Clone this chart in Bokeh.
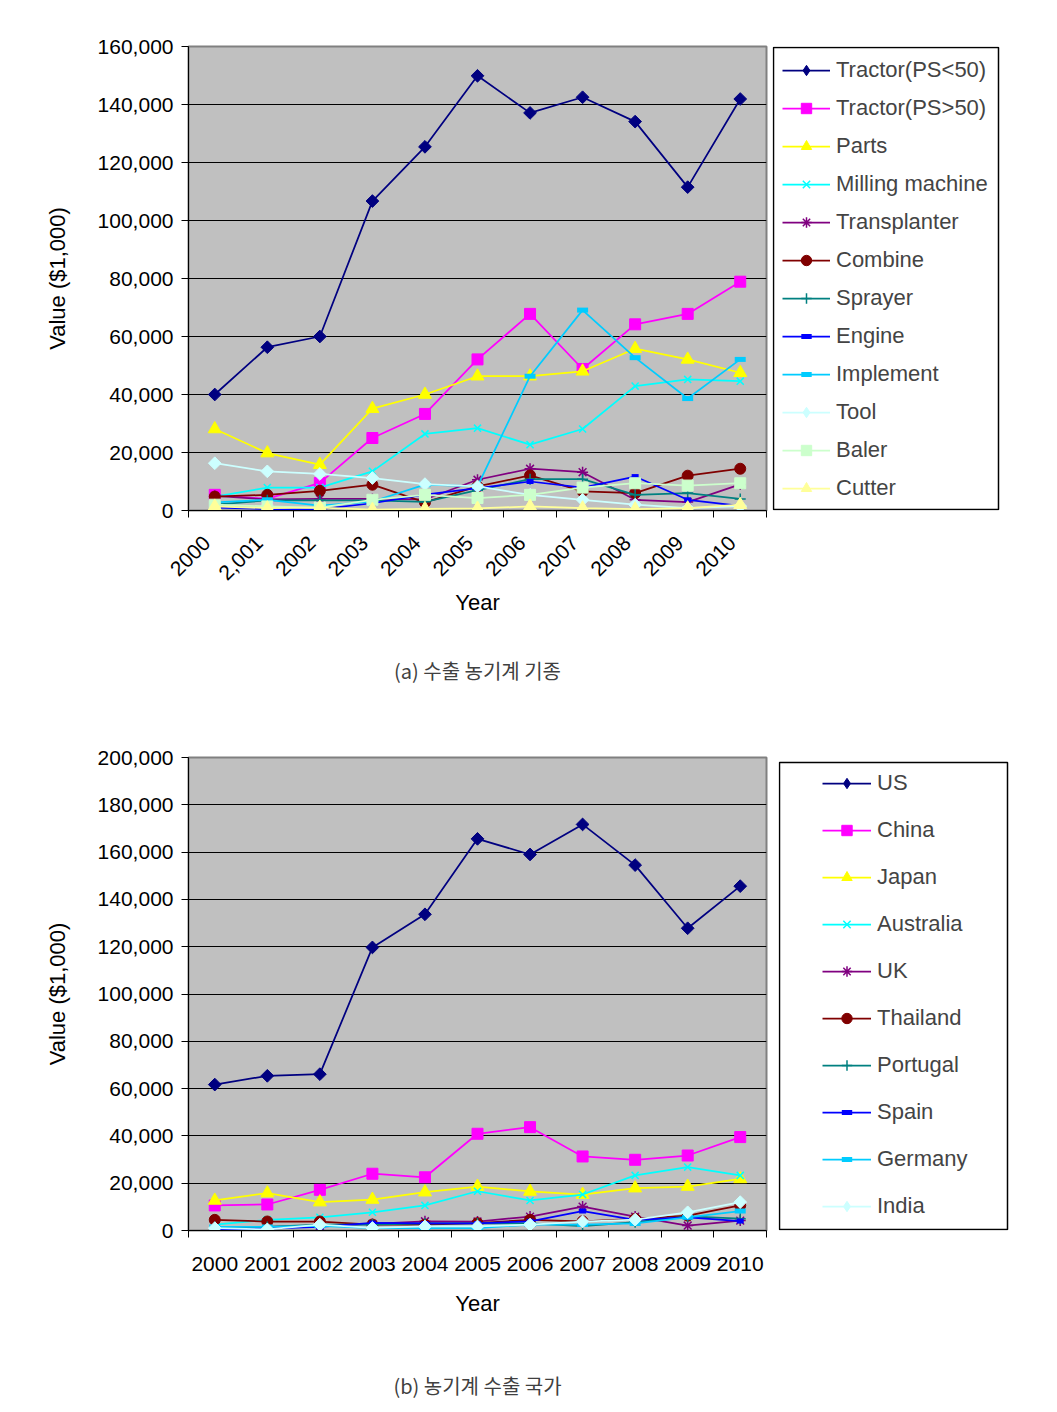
import math
from bokeh.plotting import figure
from bokeh.models import (Legend, LegendItem, FixedTicker, NumeralTickFormatter, Range1d,
                          LinearAxis, BoxAnnotation)
from bokeh.layouts import column, row
from bokeh.embed import file_html
from bokeh.resources import INLINE

# ---------------- data ----------------
years = [2000, 2001, 2002, 2003, 2004, 2005, 2006, 2007, 2008, 2009, 2010]
top_tick_labels = ["2000", "2,001", "2002", "2003", "2004", "2005", "2006", "2007", "2008", "2009", "2010"]
bottom_tick_labels = ["2000", "2001", "2002", "2003", "2004", "2005", "2006", "2007", "2008", "2009", "2010"]

machine_names = ["Tractor(PS<50)", "Tractor(PS>50)", "Parts", "Milling machine", "Transplanter",
                 "Combine", "Sprayer", "Engine", "Implement", "Tool", "Baler", "Cutter"]
tractor_lt50 = [40000, 56300, 60000, 106700, 125400, 149900, 137100, 142500, 134100, 111500, 141900]
tractor_gt50 = [5400, 4000, 9500, 25000, 33300, 52100, 67800, 48800, 64200, 67800, 78900]
parts = [28100, 19800, 15800, 35100, 40000, 46300, 46300, 48000, 55800, 52100, 47500]
milling_machine = [4800, 7900, 7900, 13500, 26400, 28400, 22700, 28100, 42900, 45200, 44600]
transplanter = [5000, 3800, 4000, 4000, 3800, 10600, 14400, 13200, 3700, 2900, 9000]
combine = [4800, 5400, 6800, 8900, 2800, 8300, 12100, 6600, 6000, 12000, 14400]
sprayer = [2000, 3500, 3500, 3500, 3000, 7000, 10800, 10800, 5400, 6000, 4000]
engine = [1000, 500, 500, 2500, 5500, 7700, 10000, 7900, 11700, 3700, 1600]
implement = [2800, 3700, 1700, 3100, 8900, 8300, 46300, 69100, 52700, 38600, 52100]
tool = [16300, 13500, 12600, 11200, 9100, 8300, 5400, 3700, 2000, 800, 1500]
baler = [2000, 1400, 1000, 3700, 5400, 4300, 5400, 7900, 9400, 8600, 9400]
cutter = [1400, 800, 1000, 300, 600, 700, 1400, 800, 500, 800, 2000]
machine_values = [tractor_lt50, tractor_gt50, parts, milling_machine, transplanter, combine,
                  sprayer, engine, implement, tool, baler, cutter]

country_names = ["US", "China", "Japan", "Australia", "UK", "Thailand", "Portugal", "Spain",
                 "Germany", "India"]
us = [61700, 65400, 66100, 119700, 133700, 165600, 159000, 171700, 154500, 127800, 145600]
china = [10600, 11000, 17200, 24000, 22500, 40900, 43700, 31300, 29900, 31700, 39500]
japan = [12700, 15800, 12000, 13100, 16200, 18600, 16500, 15200, 17900, 18600, 21800]
australia = [2500, 4500, 5600, 7700, 10600, 16600, 12700, 15200, 23300, 26800, 23300]
uk = [500, 1500, 2000, 2800, 3900, 3800, 5900, 10100, 5900, 2100, 4200]
thailand = [4500, 3800, 3800, 2500, 2500, 3100, 4500, 3900, 4900, 6300, 10600]
portugal = [1500, 1500, 2500, 2500, 3000, 3000, 3000, 1800, 3500, 6000, 5000]
spain = [500, 800, 1500, 3200, 3000, 3000, 3900, 8200, 4500, 5600, 4000]
germany = [1500, 1500, 2000, 1000, 1000, 1000, 2500, 2500, 3000, 5600, 8200]
india = [1000, 500, 2500, 1100, 1700, 1700, 2500, 3800, 4600, 7700, 12000]
country_values = [us, china, japan, australia, uk, thailand, portugal, spain, germany, india]

caption_a = "(a) 수출 농기계 기종"
caption_b = "(b) 농기계 수출 국가"
x_title = "Year"
y_title = "Value ($1,000)"

# ---------------- styles (Excel default series palette) ----------------
STYLES = [
    dict(color="#000080", marker="square", legend_marker="diamond", size=9, angle=math.pi / 4, lw=1),
    dict(color="#FF00FF", marker="square", legend_marker="square", size=11, angle=0, lw=1),
    dict(color="#FFFF00", marker="triangle", legend_marker="triangle", size=13, angle=0, lw=1),
    dict(color="#00FFFF", marker="x", legend_marker="x", size=10, angle=0, lw=1.5),
    dict(color="#800080", marker="asterisk", legend_marker="asterisk", size=11, angle=0, lw=1.5),
    dict(color="#800000", marker="circle", legend_marker="circle", size=11, angle=0, lw=1),
    dict(color="#008080", marker="cross", legend_marker="cross", size=11, angle=0, lw=1.5),
    dict(color="#0000FF", marker="dash", legend_marker="dash", size=7, angle=0, lw=5),
    dict(color="#00CCFF", marker="dash", legend_marker="dash", size=11, angle=0, lw=5),
    dict(color="#CCFFFF", marker="square", legend_marker="diamond", size=9, angle=math.pi / 4, lw=1),
    dict(color="#CCFFCC", marker="square", legend_marker="square", size=11, angle=0, lw=1),
    dict(color="#FFFF99", marker="triangle", legend_marker="triangle", size=13, angle=0, lw=1),
]

FONT = "Liberation Sans"
CAPTION_FONT = "Noto Sans CJK KR"


def add_series(p, xs, vals, st, marker_key="marker"):
    lr = p.line(xs, vals, line_color=st["color"], line_width=1.75)
    sr = p.scatter(xs, vals, marker=st[marker_key], size=st["size"], angle=st["angle"],
                   fill_color=st["color"], line_color=st["color"], line_width=st["lw"])
    return lr, sr


def make_chart(values, ymax, tick_labels, rotate, frame_h, top_b, bottom_b, right_b,
               label_standoff, title_standoff, label_shift, caption, caption_standoff):
    p = figure(frame_width=578, frame_height=frame_h, title=None,
               min_border_left=188, min_border_right=right_b,
               min_border_top=top_b, min_border_bottom=bottom_b,
               x_range=Range1d(0, len(years)), y_range=Range1d(0, ymax),
               output_backend="svg", toolbar_location=None)
    p.background_fill_color = "#C0C0C0"
    p.border_fill_color = "white"
    p.outline_line_color = "#808080"
    p.outline_line_width = 2
    p.xgrid.visible = False
    p.ygrid.grid_line_color = "black"
    p.ygrid.grid_line_width = 1

    xs = [i + 0.5 for i in range(len(years))]
    for vals, st in zip(values, STYLES):
        add_series(p, xs, vals, st)

    ya = p.yaxis[0]
    ya.ticker = FixedTicker(ticks=list(range(0, ymax + 1, 20000)))
    ya.formatter = NumeralTickFormatter(format="0,0")
    ya.major_tick_out = 7
    ya.major_tick_in = 0
    ya.minor_tick_line_color = None
    ya.major_label_standoff = 8
    ya.major_label_text_font = FONT
    ya.major_label_text_font_size = "21px"
    ya.major_label_text_color = "black"
    ya.axis_line_color = "black"
    ya.axis_label = y_title
    ya.axis_label_text_font = FONT
    ya.axis_label_text_font_size = "22px"
    ya.axis_label_text_font_style = "normal"
    ya.axis_label_text_color = "black"
    ya.axis_label_standoff = 25

    # category labels at the category centres (slightly shifted for the rotated labels,
    # as in the original); tick marks at the category boundaries
    label_pos = [x - label_shift for x in xs]
    xa = p.xaxis[0]
    xa.ticker = FixedTicker(ticks=label_pos, minor_ticks=list(range(len(years) + 1)))
    xa.major_label_overrides = {x: lab for x, lab in zip(label_pos, tick_labels)}
    xa.major_tick_line_color = None
    xa.major_tick_out = 7
    xa.minor_tick_line_color = "black"
    xa.minor_tick_out = 7
    xa.minor_tick_in = 0
    xa.axis_line_color = "black"
    xa.major_label_text_font = FONT
    xa.major_label_text_font_size = "21px"
    xa.major_label_text_color = "black"
    xa.major_label_standoff = label_standoff
    if rotate:
        xa.major_label_orientation = math.pi / 4
    xa.axis_label = x_title
    xa.axis_label_text_font = FONT
    xa.axis_label_text_font_size = "22px"
    xa.axis_label_text_font_style = "normal"
    xa.axis_label_text_color = "black"
    xa.axis_label_standoff = title_standoff

    # figure caption: label of a bare (tick-less, line-less) axis stacked under the x axis
    cap = LinearAxis(ticker=FixedTicker(ticks=[]), axis_line_color=None,
                     major_tick_line_color=None, minor_tick_line_color=None,
                     major_tick_out=0, minor_tick_out=0, major_label_text_font_size="0px",
                     axis_label=caption, axis_label_standoff=caption_standoff,
                     axis_label_text_font=CAPTION_FONT, axis_label_text_font_size="20px",
                     axis_label_text_font_style="normal", axis_label_text_color="#404040")
    p.add_layout(cap, "below")
    return p, xs


def make_legend_fig(names, values, xs, frame_w, frame_h, top_b, bottom_b, box_w, box_h,
                    inner_x, inner_y, padding, spacing, item_h, glyph_w, label_w):
    # The legend lives in its own small figure (same vertical frame as the chart, so the
    # row keeps both aligned); the series are re-added there outside its visible range only
    # so that the legend can draw their glyphs.  The frame's ranges are pixel units.
    q = figure(frame_width=frame_w, frame_height=frame_h, title=None, min_border_left=0,
               min_border_right=2, min_border_top=top_b, min_border_bottom=bottom_b,
               x_range=Range1d(0, frame_w), y_range=Range1d(0, frame_h),
               x_axis_type=None, y_axis_type=None,
               output_backend="svg", toolbar_location=None)
    q.grid.visible = False
    q.background_fill_color = "white"
    q.border_fill_color = "white"
    q.outline_line_color = None
    q.add_layout(BoxAnnotation(left=1, right=1 + box_w, bottom=1, top=box_h,
                               fill_color=None, fill_alpha=0, line_color="black",
                               line_alpha=1, line_width=1.5))
    items = []
    for name, vals, st in zip(names, values, STYLES):
        lr, sr = add_series(q, [x - 100 for x in xs], [-v for v in vals], st,
                            marker_key="legend_marker")
        items.append(LegendItem(label=name, renderers=[lr, sr]))
    leg = Legend(items=items, location=(inner_x, inner_y), padding=padding, spacing=spacing,
                 label_height=item_h, glyph_height=item_h, glyph_width=glyph_w,
                 label_standoff=6, label_width=label_w, margin=0,
                 label_text_font=FONT, label_text_font_size="22px",
                 border_line_color=None, background_fill_alpha=0)
    q.add_layout(leg)
    return q


# ---------------- top chart ----------------
p1, xs1 = make_chart(machine_values, 160000, top_tick_labels, True, 464, 46, 200, 6,
                     label_standoff=22, title_standoff=0, label_shift=0.15,
                     caption=caption_a, caption_standoff=38)
l1 = make_legend_fig(machine_names, machine_values, xs1, 228, 464, 46, 200, 225, 463,
                     10, 9, 9, 12, 26, 48, 152)

# ---------------- bottom chart ----------------
p2, xs2 = make_chart(country_values, 200000, bottom_tick_labels, False, 473, 47, 176, 12,
                     label_standoff=19, title_standoff=17, label_shift=0,
                     caption=caption_b, caption_standoff=52)
l2 = make_legend_fig(country_names, country_values, xs2, 231, 473, 47, 176, 228, 468,
                     44, 11, 8, 21, 26, 49, 20)

layout = column(row(p1, l1, spacing=0), row(p2, l2, spacing=0), spacing=0)
open("out.html", "w").write(file_html(layout, INLINE))
